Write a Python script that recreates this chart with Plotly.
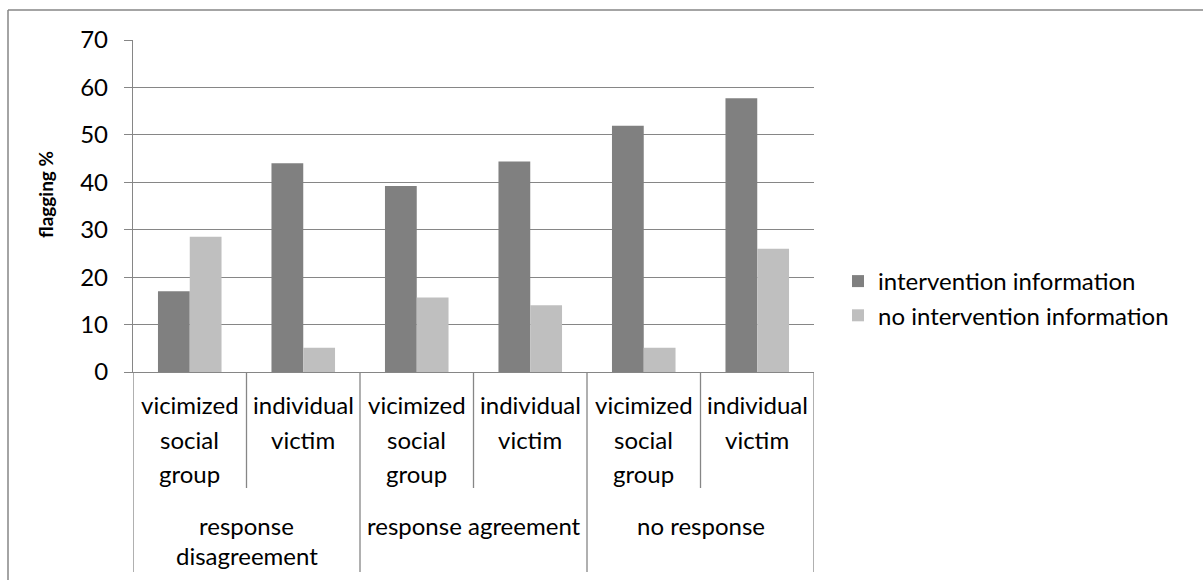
import plotly.graph_objects as go

# ---- data ----
groups = ["response<br>disagreement", "response agreement", "no response"]
sub_labels = ["vicimized<br>social<br>group", "individual<br>victim"]
categories_group = [0, 0, 1, 1, 2, 2]           # group index for each bar position
categories_sub = [0, 1, 0, 1, 0, 1]             # sub label index for each bar position
series_names = ["intervention information", "no intervention information"]
intervention = [17.0, 44.0, 39.2, 44.4, 51.9, 57.7]
no_intervention = [28.5, 5.1, 15.7, 14.1, 5.1, 26.0]
y_ticks = [0, 10, 20, 30, 40, 50, 60, 70]
y_title = "flagging %"

# ---- layout constants (pixels) ----
W, H = 1203, 580
L, R, T, B = 133, 814, 40, 372
PW, PH = R - L, B - T
FONT = "Lato"
FS = 24
GRID = "#868686"
TXT = "#000000"


def py(pix):
    return (B - pix) / PH


def px(pix):
    return (pix - L) / PW


n = len(intervention)
xs = list(range(n))

fig = go.Figure()
fig.add_trace(go.Bar(x=xs, y=intervention, name=series_names[0],
                     marker=dict(color="#808080", line=dict(width=0))))
fig.add_trace(go.Bar(x=xs, y=no_intervention, name=series_names[1],
                     marker=dict(color="#BFBFBF", line=dict(width=0))))

shapes = []
annotations = []

# sub-category labels
sub_line_y = [405, 439, 473]
for i in xs:
    lines = sub_labels[categories_sub[i]].split("<br>")
    for k, ln in enumerate(lines):
        annotations.append(dict(x=i, xref="x", y=py(sub_line_y[k]), yref="paper",
                                text=ln, showarrow=False, xanchor="center", yanchor="middle",
                                font=dict(family=FONT, size=FS, color=TXT)))

# group labels
grp_line_y = [525, 555]
for g, name in enumerate(groups):
    members = [i for i in xs if categories_group[i] == g]
    cx = (members[0] + members[-1]) / 2
    for k, ln in enumerate(name.split("<br>")):
        annotations.append(dict(x=cx, xref="x", y=py(grp_line_y[k]), yref="paper",
                                text=ln, showarrow=False, xanchor="center", yanchor="middle",
                                font=dict(family=FONT, size=FS, color=TXT)))

# y axis title
annotations.append(dict(x=px(45), xref="paper", y=py(195), yref="paper",
                        text="<b>" + y_title + "</b>", textangle=-90, showarrow=False,
                        xanchor="center", yanchor="middle",
                        font=dict(family=FONT, size=19, color=TXT)))

# dividers
for i in range(n + 1):
    xb = i - 0.5
    is_group = i == 0 or i == n or categories_group[i] != categories_group[i - 1]
    bottom = 572 if is_group else 488
    shapes.append(dict(type="line", xref="x", yref="paper", x0=xb, x1=xb,
                       y0=py(B), y1=py(bottom), line=dict(color=GRID, width=1.3)))

# outer chart border (top and left visible)
shapes.append(dict(type="line", xref="paper", yref="paper", x0=px(8), x1=px(1210),
                   y0=py(10), y1=py(10), line=dict(color=GRID, width=1.5)))
shapes.append(dict(type="line", xref="paper", yref="paper", x0=px(8), x1=px(8),
                   y0=py(10), y1=py(600), line=dict(color=GRID, width=1.5)))

fig.update_layout(
    width=W, height=H,
    margin=dict(l=L, r=W - R, t=T, b=H - B, pad=0),
    paper_bgcolor="white", plot_bgcolor="white",
    barmode="group", bargap=0.44, bargroupgap=0,
    showlegend=True,
    legend=dict(x=px(838), xanchor="left", y=py(259), yanchor="top",
                font=dict(family=FONT, size=FS, color=TXT),
                tracegroupgap=0, bgcolor="rgba(0,0,0,0)"),
    xaxis=dict(range=[-0.5, n - 0.5], showticklabels=False, showgrid=False,
               zeroline=False, showline=True, linecolor=GRID, linewidth=1.3,
               ticks="", fixedrange=True),
    yaxis=dict(range=[0, 70], tickvals=y_ticks, showgrid=True, gridcolor=GRID, gridwidth=1.3,
               zeroline=False, showline=True, linecolor=GRID, linewidth=1.3,
               ticks="outside", ticklen=8, tickcolor=GRID, tickwidth=1.3,
               tickfont=dict(family=FONT, size=FS, color=TXT), ticklabelstandoff=11),
    shapes=shapes,
    annotations=annotations,
)

fig.write_html("out.html")
